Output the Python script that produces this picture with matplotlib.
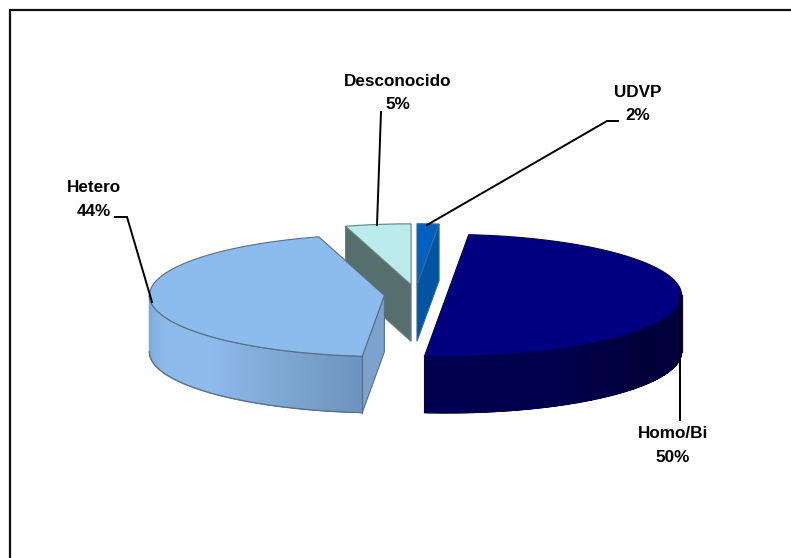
import numpy as np
import matplotlib
matplotlib.use("Agg")
import matplotlib.pyplot as plt
from matplotlib.patches import Polygon

categories = ["UDVP", "Homo/Bi", "Hetero", "Desconocido"]
values = [1.5, 50.0, 44.0, 4.5]
percent_labels = ["2%", "50%", "44%", "5%"]

plt.rcParams["font.family"] = ["Liberation Sans", "DejaVu Sans"]
FS = 12.3

# geometry (pixels)
CX, CY, RX, RY, DEPTH = 415.5, 294.5, 235.0, 61.0, 56.5
EX, EY = 0.133, 0.16
TOP = ["#0060C0", "#000080", "#8CBCEE", "#B9ECEB"]
WALL = ["#0054A0", "#00004C", "#7BA3CE", "#566E6C"]
EDGE = ["#3A6A9A", "#000050", "#5A6E85", "#66807E"]

fig = plt.figure(figsize=(7.91, 5.58), dpi=100, facecolor="white")
ax = fig.add_axes([0, 0, 1, 1])
ax.set_xlim(0, 791)
ax.set_ylim(558, 0)
ax.axis("off")

ax.plot([9.5, 9.5, 791], [558, 10, 10], color="#111111", lw=1.6, solid_joinstyle="miter")

edges = np.concatenate([[0], np.cumsum(values)]) * 360.0 / np.sum(values)
slices = []
for i in range(len(values)):
    a0, a1 = edges[i], edges[i + 1]
    mid = np.radians((a0 + a1) / 2)
    slices.append((a0, a1, CX + EX * RX * np.sin(mid), CY - EY * RY * np.cos(mid)))


def rim(cx, cy, deg):
    t = np.radians(deg)
    return cx + RX * np.sin(t), cy - RY * np.cos(t)


def top_face(i, z):
    a0, a1, cx, cy = slices[i]
    th = np.linspace(a0, a1, 200)
    x, y = rim(cx, cy, th)
    pts = np.column_stack([x, y])
    if a1 - a0 < 179.9:
        pts = np.vstack([[cx, cy], pts])
    ax.add_patch(Polygon(pts, closed=True, fc=TOP[i], ec=EDGE[i], lw=0.8, zorder=z))


def cut_wall(i, deg, z):
    a0, a1, cx, cy = slices[i]
    x, y = rim(cx, cy, deg)
    pts = [(cx, cy), (x, y), (x, y + DEPTH), (cx, cy + DEPTH)]
    ax.add_patch(Polygon(pts, closed=True, fc=WALL[i], ec=EDGE[i], lw=0.8, zorder=z))


def rim_wall(i, d0, d1, stops, z):
    a0, a1, cx, cy = slices[i]
    th = np.linspace(d0, d1, 161)
    pos = np.linspace(0, 1, len(th) - 1)
    st = np.array([matplotlib.colors.to_rgb(c) for c in stops])
    sx = np.linspace(0, 1, len(stops))
    x, y = rim(cx, cy, th)
    outline = np.vstack([np.column_stack([x, y]), np.column_stack([x, y + DEPTH])[::-1]])
    ax.add_patch(Polygon(outline, closed=True, fc=st.mean(axis=0), ec=EDGE[i], lw=0.8, zorder=z))
    for k in range(len(th) - 1):
        col = [np.interp(pos[k], sx, st[:, n]) for n in range(3)]
        k1 = min(k + 2, len(th) - 1)
        x0, y0 = rim(cx, cy, th[k])
        x1, y1 = rim(cx, cy, th[k1])
        ax.add_patch(Polygon([(x0, y0), (x1, y1), (x1, y1 + DEPTH), (x0, y0 + DEPTH)],
                             closed=True, fc=col, ec="none", antialiased=False, zorder=z + 0.01))
    ax.plot(x, y + DEPTH, color=EDGE[i], lw=0.9, zorder=z + 0.1)
    ax.plot(x, y, color=EDGE[i], lw=0.9, zorder=z + 0.1)
    ax.plot([x[0], x[0]], [y[0], y[0] + DEPTH], color=EDGE[i], lw=0.9, zorder=z + 0.1)


# Desconocido (rear-most)
cut_wall(3, slices[3][0], 2)
top_face(3, 3)
# UDVP
cut_wall(0, slices[0][1], 2)
top_face(0, 3)
# Homo/Bi
rim_wall(1, 90, slices[1][1], ["#000042", "#000038", "#00004C", "#00004E"], 4)
top_face(1, 5)
# Hetero
cut_wall(2, slices[2][0], 6)
rim_wall(2, slices[2][0], 270, ["#6C93BE", "#7FA8D2", "#8EBBEC", "#8CBAEA", "#7EA9D8"], 6)
top_face(2, 7)

# leader lines
leaders = {
    0: ([618, 607, 427], [121, 121, 225]),
    1: ([680, 680], [296, 420]),
    2: ([115, 127, 152], [217, 217, 302]),
    3: ([381, 377], [112, 225]),
}
for i, (lx, ly) in leaders.items():
    ax.plot(lx, ly, color="black", lw=1.4, zorder=8, solid_joinstyle="miter")

label_pos = {0: (638, 104), 1: (673, 445.5), 2: (94, 199.5), 3: (398, 93)}
for i, (tx, ty) in label_pos.items():
    ax.text(tx, ty, f"{categories[i]}\n{percent_labels[i]}", ha="center", va="center",
            fontsize=FS, fontweight="bold", color="black", linespacing=1.72, zorder=9)

fig.savefig("out.png", dpi=100, facecolor="white")
